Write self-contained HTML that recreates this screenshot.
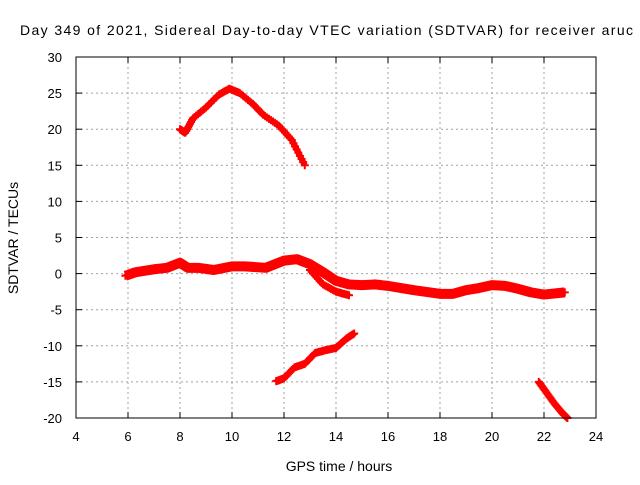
<!DOCTYPE html>
<html><head><meta charset="utf-8"><style>
body{margin:0;background:#fff;}
svg text{font-family:"Liberation Sans",sans-serif;font-size:13px;fill:#000}
</style></head><body>
<svg id="chart" width="640" height="480" viewBox="0 0 640 480">
<text x="20" y="35" textLength="613" lengthAdjust="spacing" style="font-size:14px">Day 349 of 2021, Sidereal Day-to-day VTEC variation (SDTVAR) for receiver aruc</text>
<g id="grid"></g><g id="ticks"></g><g id="series"></g>
<rect x="76" y="57" width="520" height="361" fill="none" stroke="#000"/>
<text x="339" y="471" text-anchor="middle" style="font-size:14px">GPS time / hours</text>
<text transform="translate(18,238) rotate(-90)" text-anchor="middle" style="font-size:14px">SDTVAR / TECUs</text>
</svg>
<script>
const xTicks=[4,6,8,10,12,14,16,18,20,22,24];
const yTicks=[30,25,20,15,10,5,0,-5,-10,-15,-20];
const upperArc=[[8.0,20],[8.2,19.5],[8.5,21.5],[9,23],[9.5,24.8],[9.9,25.6],[10.3,25],[10.8,23.5],[11.2,22],[11.8,20.5],[12.3,18.5],[12.8,15]];
const mainBand=[[5.9,-0.3],[6.3,0.2],[7,0.6],[7.5,0.8],[8,1.5],[8.3,0.8],[8.7,0.8],[9.3,0.5],[10,1],[10.5,1],[11.3,0.8],[12,1.8],[12.5,2],[13,1.3],[13.5,0.2],[14,-1],[14.5,-1.5],[15,-1.6],[15.5,-1.5],[16,-1.7],[17,-2.3],[18,-2.8],[18.5,-2.8],[19,-2.3],[19.5,-2],[20,-1.6],[20.5,-1.7],[21,-2.1],[21.5,-2.6],[22,-2.9],[22.8,-2.6]];
const branch=[[13,0.5],[13.5,-1.5],[14,-2.5],[14.5,-3]];
const lowerArc=[[11.7,-14.9],[12,-14.5],[12.4,-13],[12.8,-12.5],[13.2,-11],[13.6,-10.6],[14,-10.3],[14.4,-9],[14.7,-8.3]];
const tailArc=[[21.8,-15],[22.1,-16.5],[22.4,-18],[22.7,-19.3],[22.9,-20]];
const NS="http://www.w3.org/2000/svg";
const X=v=>76+(v-4)*26, Y=v=>57+(30-v)*361/50;
function mk(t,a,p){const e=document.createElementNS(NS,t);for(const k in a)e.setAttribute(k,a[k]);p.appendChild(e);return e;}
const grid=document.getElementById('grid'),ticks=document.getElementById('ticks'),ser=document.getElementById('series');
xTicks.forEach(v=>{const x=X(v);
 if(v>4&&v<24){const l=mk('line',{x1:x,x2:x,y1:57,y2:418,stroke:'#a0a0a0','stroke-dasharray':'2,3'},grid);
 }
 mk('line',{x1:x,x2:x,y1:418,y2:412,stroke:'#000'},ticks);mk('line',{x1:x,x2:x,y1:57,y2:63,stroke:'#000'},ticks);
 const t=mk('text',{x:x,y:441,'text-anchor':'middle'},ticks);t.textContent=v;
 });
yTicks.forEach(v=>{const y=Y(v);
 if(v<30&&v>-20){const l=mk('line',{x1:76,x2:596,y1:y,y2:y,stroke:'#a0a0a0','stroke-dasharray':'2,3'},grid);
 }
 mk('line',{x1:76,x2:82,y1:y,y2:y,stroke:'#000'},ticks);mk('line',{x1:596,x2:590,y1:y,y2:y,stroke:'#000'},ticks);
 const t=mk('text',{x:62,y:y+5,'text-anchor':'end'},ticks);t.textContent=v;
 });
function draw(arr,name,w){
 const g=mk('g',{},ser);
 mk('polyline',{points:arr.map(p=>X(p[0])+','+Y(p[1])).join(' '),fill:'none',stroke:'#f00','stroke-width':w,'stroke-linejoin':'round'},g);
 for(let i=0;i<arr.length;i++){
  const n=i<arr.length-1?8:1;
  for(let k=0;k<n;k++){
   const a=arr[i],b=arr[Math.min(i+1,arr.length-1)],f=k/n;
   const x=X(a[0]+(b[0]-a[0])*f),y=Y(a[1]+(b[1]-a[1])*f);
   mk('path',{d:`M${x-4},${y}h8M${x},${y-4}v8`,stroke:'#f00','stroke-width':2},g);
  }}
}
draw(upperArc,'series-upper-arc',6);draw(mainBand,'series-main-band',10);draw(branch,'series-branch',6);
draw(lowerArc,'series-lower-arc',6);draw(tailArc,'series-tail-arc',6);
</script>
</body></html>
